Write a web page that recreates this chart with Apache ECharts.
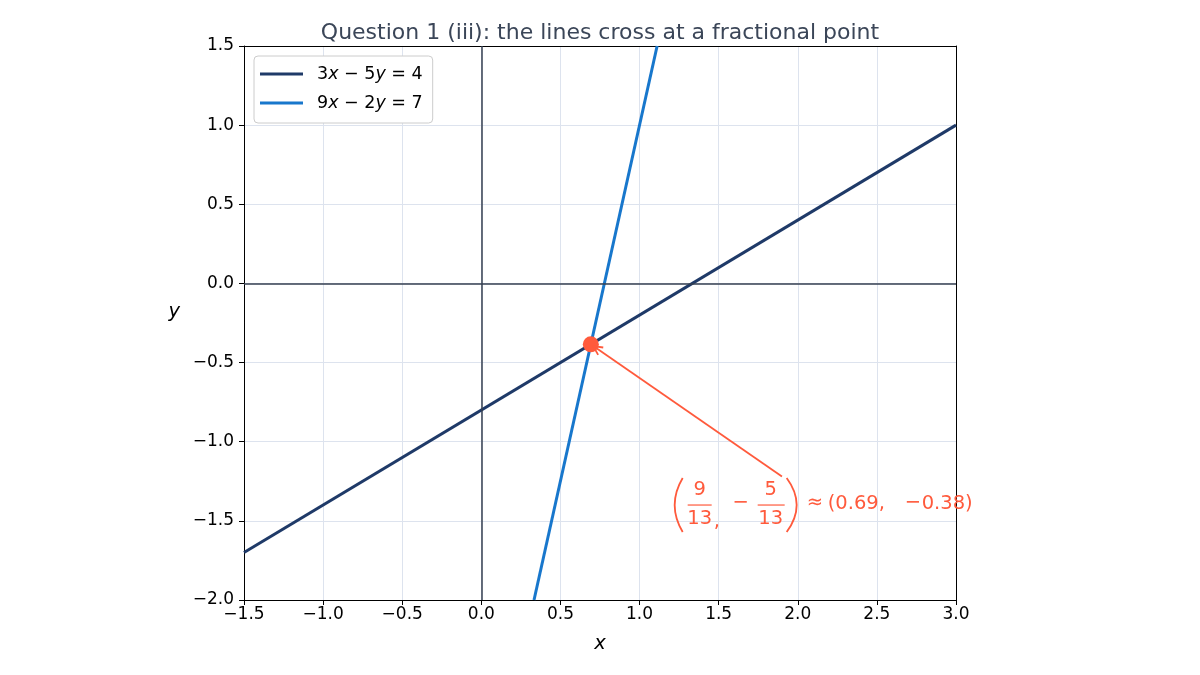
<!DOCTYPE html>
<html>
<head>
<meta charset="utf-8">
<script src="https://cdn.jsdelivr.net/npm/echarts@6/dist/echarts.min.js"></script>
<style>
  html, body { margin: 0; padding: 0; background: #fff; }
  #chart { width: 1200px; height: 675px; }
</style>
</head>
<body>
<div id="chart"></div>
<script>
// ---- data ----
const seriesNames = ['3x − 5y = 4', '9x − 2y = 7'];
const lineA = [[-1.5, -1.7], [3.0, 1.0]];          // 3x - 5y = 4
const lineB = [[0.333, -2.0], [1.111, 1.5]];       // 9x - 2y = 7
const crossPoint = [0.692, -0.385];                // (9/13, -5/13)
const annotAnchor = [2.17, -1.40];                 // centre of annotation text
const arrowTail = [1.9, -1.22];                    // where arrow leaves text
const xTicks = { min: -1.5, max: 3.0, step: 0.5 };
const yTicks = { min: -2.0, max: 1.5, step: 0.5 };
const annotParts = { num1: '9', den1: '13', num2: '5', den2: '13', approx: '≈', xVal: '(0.69,', yVal: '0.38)' };

const FONT = 'DejaVu Sans';
const NAVY = '#1f3a68';
const BLUE = '#1877cc';
const TOMATO = '#ff5a3c';
const AXISDARK = '#353f50';

const fmt = v => (v < -1e-9 ? '−' : '') + Math.abs(v).toFixed(1);
const legendFmt = name => name.replace(/([xy])/g, '{i|$1}');

const chart = echarts.init(document.getElementById('chart'), null, { renderer: 'canvas' });

function renderAnnot(params, api) {
  const c = api.coord([api.value(0), api.value(1)]);
  const tail = api.coord([api.value(2), api.value(3)]);
  const head = api.coord([api.value(4), api.value(5)]);
  const dx = head[0] - tail[0], dy = head[1] - tail[1];
  const len = Math.sqrt(dx * dx + dy * dy);
  const ux = dx / len, uy = dy / len;
  const tip = [head[0] - ux * 3, head[1] - uy * 3];
  const L = 9, W = 4.5;
  const nx = -uy, ny = ux;
  const hA = [tip[0] - ux * L + nx * W, tip[1] - uy * L + ny * W];
  const hB = [tip[0] - ux * L - nx * W, tip[1] - uy * L - ny * W];
  const fs = 19.5;
  const txt = (s, x, y, align) => ({
    type: 'text', x: c[0] + x, y: c[1] + y,
    style: { text: s, fill: TOMATO, fontSize: fs, fontFamily: FONT, align: align || 'center', verticalAlign: 'middle' }
  });
  const bar = (x1, x2, y) => ({
    type: 'line', shape: { x1: c[0] + x1, y1: c[1] + y, x2: c[0] + x2, y2: c[1] + y },
    style: { stroke: TOMATO, lineWidth: 1.2 }
  });
  const paren = (x, cx) => ({
    type: 'bezierCurve',
    shape: { x1: c[0] + x, y1: c[1] - 27, x2: c[0] + x, y2: c[1] + 27, cpx1: c[0] + cx, cpy1: c[1] },
    style: { stroke: TOMATO, fill: null, lineWidth: 1.8 }
  });
  return {
    type: 'group',
    children: [
      { type: 'line', shape: { x1: tail[0], y1: tail[1], x2: tip[0], y2: tip[1] }, style: { stroke: TOMATO, lineWidth: 1.8 } },
      { type: 'polyline', shape: { points: [hA, tip, hB] }, style: { stroke: TOMATO, fill: null, lineWidth: 1.8 } },
      paren(-142, -158),
      txt(annotParts.num1, -125, -15),
      bar(-137, -113, 0),
      txt(annotParts.den1, -125, 14),
      txt(',', -111, 17, 'left'),
      txt('−', -84, -2),
      txt(annotParts.num2, -54, -15),
      bar(-67, -40, 0),
      txt(annotParts.den2, -54, 14),
      paren(-38, -18),
      txt(annotParts.approx, -18, -2, 'left'),
      txt(annotParts.xVal, 3, -1, 'left'),
      txt('−', 80, -2, 'left'),
      txt(annotParts.yVal, 97, -1, 'left')
    ]
  };
}

const axisCommon = {
  type: 'value',
  axisLine: { show: true, onZero: false, lineStyle: { color: '#000', width: 1 } },
  axisTick: { show: true, inside: false, length: 5, lineStyle: { color: '#000', width: 1 } },
  axisLabel: { color: '#000', fontSize: 17, fontFamily: FONT, margin: 6, formatter: fmt },
  splitLine: { show: true, lineStyle: { color: '#dde3ee', width: 1 } },
  nameTextStyle: { fontSize: 19.5, fontFamily: FONT, fontStyle: 'italic', color: '#000' }
};
const frameAxis = {
  type: 'value',
  axisLine: { show: true, onZero: false, lineStyle: { color: '#000', width: 1 } },
  axisTick: { show: false }, axisLabel: { show: false }, splitLine: { show: false }
};

chart.setOption({
  animation: false,
  backgroundColor: '#fff',
  title: {
    text: 'Question 1 (iii): the lines cross at a fractional point',
    left: 'center', top: 17,
    textStyle: { fontSize: 22, fontWeight: 'normal', fontFamily: FONT, color: '#3b4658' }
  },
  grid: { left: 244, top: 46, width: 712, height: 554, show: false },
  xAxis: [
    Object.assign({}, axisCommon, {
      min: xTicks.min, max: xTicks.max, interval: xTicks.step,
      name: 'x', nameLocation: 'middle', nameGap: 34
    }),
    Object.assign({}, frameAxis, { position: 'top', min: xTicks.min, max: xTicks.max, interval: xTicks.step })
  ],
  yAxis: [
    Object.assign({}, axisCommon, {
      min: yTicks.min, max: yTicks.max, interval: yTicks.step,
      axisLabel: Object.assign({}, axisCommon.axisLabel, { margin: 10 }),
      name: 'y', nameLocation: 'middle', nameGap: 64, nameRotate: 0,
      nameTextStyle: Object.assign({}, axisCommon.nameTextStyle, { verticalAlign: 'bottom', lineHeight: 22 })
    }),
    Object.assign({}, frameAxis, { position: 'right', min: yTicks.min, max: yTicks.max, interval: yTicks.step })
  ],
  legend: {
    data: seriesNames,
    orient: 'vertical',
    left: 254, top: 56,
    padding: [8, 10, 10, 6],
    itemGap: 9,
    itemWidth: 43, itemHeight: 3,
    icon: 'rect',
    backgroundColor: '#fff',
    borderColor: '#cccccc', borderWidth: 1, borderRadius: 4,
    formatter: legendFmt,
    textStyle: {
      fontSize: 17.5, fontFamily: FONT, color: '#000', padding: [0, 0, 0, 9], lineHeight: 20,
      rich: { i: { fontSize: 17.5, fontFamily: FONT, fontStyle: 'italic', color: '#000', lineHeight: 20 } }
    }
  },
  series: [
    {
      name: 'axes0', type: 'line', data: [], silent: true, z: 1,
      markLine: {
        silent: true, symbol: ['none', 'none'], label: { show: false },
        lineStyle: { color: AXISDARK, width: 1.5, type: 'solid' },
        emphasis: { disabled: true },
        data: [{ xAxis: 0 }, { yAxis: 0 }]
      }
    },
    {
      name: seriesNames[0], type: 'line', data: lineA, showSymbol: false, symbol: 'none', z: 3,
      lineStyle: { color: NAVY, width: 3 }, itemStyle: { color: NAVY }
    },
    {
      name: seriesNames[1], type: 'line', data: lineB, showSymbol: false, symbol: 'none', z: 3,
      lineStyle: { color: BLUE, width: 3 }, itemStyle: { color: BLUE }
    },
    {
      name: 'crossing', type: 'scatter', data: [crossPoint], symbolSize: 16, z: 5,
      itemStyle: { color: TOMATO, opacity: 1 }
    },
    {
      name: 'annotation', type: 'custom', clip: false, z: 6,
      renderItem: renderAnnot,
      encode: { x: 0, y: 1 },
      data: [[annotAnchor[0], annotAnchor[1], arrowTail[0], arrowTail[1], crossPoint[0], crossPoint[1]]]
    }
  ]
});
</script>
</body>
</html>
